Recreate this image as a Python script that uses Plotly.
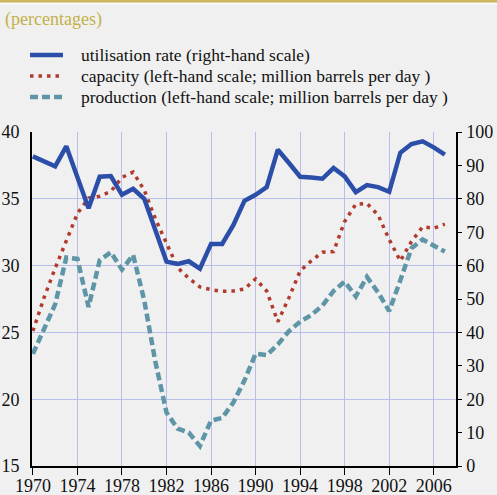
import plotly.graph_objects as go

# annual data, 1970-2007
years = list(range(1970, 2008))

utilisation = [92.7, 91.1, 89.7, 95.7, 86.5, 77.2, 86.6, 86.8, 81.2, 83.0,
               80.0, 70.5, 61.2, 60.5, 61.3, 59.1, 66.5, 66.5, 72.1, 79.4,
               81.2, 83.5, 94.7, 90.7, 86.6, 86.4, 86.0, 89.2, 86.7, 82.0,
               84.1, 83.5, 82.1, 93.8, 96.4, 97.2, 95.4, 93.2]

capacity = [25.1, 27.6, 29.8, 31.9, 33.9, 35.05, 35.2, 35.55, 36.6, 37.0,
            35.65, 33.5, 31.6, 29.85, 29.05, 28.4, 28.2, 28.08, 28.1, 28.25,
            29.0, 28.1, 25.8, 27.6, 29.6, 30.35, 31.0, 31.05, 33.3, 34.6,
            34.65, 33.8, 31.95, 30.35, 31.8, 32.9, 32.8, 33.1]

production = [23.4, 25.3, 27.1, 30.6, 30.5, 26.9, 30.4, 31.0, 29.7, 30.8,
              27.4, 22.8, 19.0, 17.8, 17.5, 16.5, 18.4, 18.6, 19.75, 21.4,
              23.4, 23.3, 24.1, 25.1, 25.8, 26.3, 27.0, 28.1, 28.8, 27.7,
              29.15, 28.0, 26.6, 28.9, 31.3, 31.95, 31.5, 31.05]

tick_years = list(range(1970, 2007, 4))

names = [
    "utilisation rate (right-hand scale)",
    "capacity (left-hand scale; million barrels per day )",
    "production (left-hand scale; million barrels per day )",
]

W, H = 497, 495
M = dict(l=32, r=41, t=132, b=29)
BG = "#f0f0f0"
GRID = "#b9bdec"
SERIF = "Liberation Serif"

styles = [
    dict(color="#2b4fa8", width=4.5),
    dict(color="#b23a2c", width=3.5, dash="3.5px,5px"),
    dict(color="#5f96a7", width=4.5, dash="8px,4px"),
]


def px_x(p):
    # page pixel -> paper x
    return (p - M["l"]) / (W - M["l"] - M["r"])


def px_y(p):
    return 1 + (M["t"] - p) / (H - M["t"] - M["b"])


fig = go.Figure()

fig.add_trace(go.Scatter(x=years, y=utilisation, yaxis="y2", mode="lines",
                         name=names[0], line=styles[0]))
fig.add_trace(go.Scatter(x=years, y=capacity, mode="lines",
                         name=names[1], line=styles[1]))
fig.add_trace(go.Scatter(x=years, y=production, mode="lines",
                         name=names[2], line=styles[2]))

# hand-made legend (tighter rows than plotly's own)
shapes = [
    dict(type="line", xref="paper", yref="paper", x0=-0.1, x1=1.1,
         y0=px_y(1.2), y1=px_y(1.2), line=dict(color="#cdb85e", width=3)),
    dict(type="line", xref="paper", yref="paper", x0=-0.1, x1=1.1,
         y0=px_y(3.5), y1=px_y(3.5), line=dict(color="#ffffff", width=1.5)),
]
annotations = []
for i, (name, st) in enumerate(zip(names, styles)):
    yy = px_y(55 + i * 21)
    shapes.append(dict(type="line", xref="paper", yref="paper",
                       x0=px_x(30), x1=px_x(63), y0=yy, y1=yy, line=st))
    annotations.append(dict(text=name, xref="paper", yref="paper",
                            x=px_x(79), y=yy, xanchor="left", yanchor="middle",
                            showarrow=False,
                            font=dict(family=SERIF, size=17.5, color="#111111")))

fig.update_layout(
    width=W, height=H,
    paper_bgcolor=BG, plot_bgcolor=BG,
    margin=dict(**M, autoexpand=False),
    font=dict(family=SERIF, size=18, color="#111111"),
    title=dict(
        text="(percentages)", xref="container", yref="container",
        x=5 / W, xanchor="left", y=1 - 12 / H, yanchor="top",
        font=dict(family=SERIF, size=18, color="#c4b048"),
    ),
    showlegend=False,
    xaxis=dict(
        range=[1969.92, 2008.0], tickvals=tick_years,
        showgrid=True, gridcolor=GRID, gridwidth=1,
        showline=True, linecolor="#000000", linewidth=1.5,
        ticks="outside", ticklen=7, tickcolor="#000000",
        ticklabelstandoff=-4, zeroline=False, tickfont=dict(size=18),
    ),
    yaxis=dict(
        range=[15, 40], dtick=5,
        showgrid=True, gridcolor=GRID, gridwidth=1,
        showline=True, linecolor="#000000", linewidth=2,
        ticks="", ticklabelstandoff=7, zeroline=False,
        tickfont=dict(size=18),
    ),
    yaxis2=dict(
        range=[0, 100], dtick=10, overlaying="y", side="right", anchor="x",
        showgrid=False, showline=True, linecolor="#000000", linewidth=1.5,
        ticks="outside", ticklen=4, tickcolor="#000000",
        ticklabelstandoff=1, zeroline=False, tickfont=dict(size=18),
    ),
    shapes=shapes,
    annotations=annotations,
)

# the page body has an 8px default margin; drop it so the figure fills the window
fig.write_html("out.html", config={"displayModeBar": False},
               post_script="document.body.style.margin='0';")
